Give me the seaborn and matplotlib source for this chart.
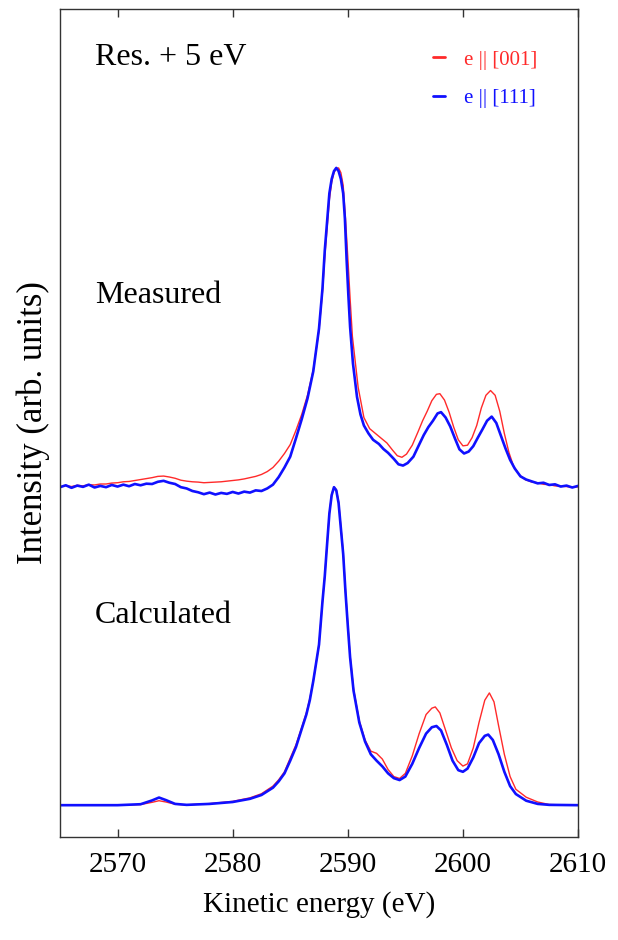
import numpy as np
import pandas as pd
import matplotlib
matplotlib.use("Agg")
import matplotlib.pyplot as plt
from matplotlib.lines import Line2D
import seaborn as sns

# ---- data (normalised intensity; baseline = 0, main peak = 1) ----
meas_111_e = [2565.0, 2565.5, 2566.0, 2566.5, 2567.0, 2567.5, 2568.0, 2568.5, 2569.0, 2569.5,
              2570.0, 2570.5, 2571.0, 2571.5, 2572.0, 2572.5, 2573.0, 2573.5, 2574.0, 2574.5,
              2575.0, 2575.5, 2576.0, 2576.5, 2577.0, 2577.5, 2578.0, 2578.5, 2579.0, 2579.5,
              2580.0, 2580.5, 2581.0, 2581.5, 2582.0, 2582.5, 2583.0, 2583.5, 2584.0, 2584.5,
              2585.0, 2585.5, 2586.0, 2586.5, 2587.0, 2587.5, 2587.8, 2588.0, 2588.2, 2588.4,
              2588.6, 2588.8, 2589.0, 2589.2, 2589.4, 2589.6, 2589.75, 2589.9, 2590.05, 2590.2,
              2590.45, 2590.8, 2591.1, 2591.4, 2591.8, 2592.2, 2592.7, 2593.1,
              2593.5, 2594.0, 2594.4, 2594.8, 2595.2, 2595.7, 2596.2, 2596.6, 2597.0, 2597.4,
              2597.8, 2598.1, 2598.5, 2598.9, 2599.3, 2599.7, 2600.1, 2600.5, 2600.9, 2601.3,
              2601.7, 2602.1, 2602.5, 2602.9, 2603.3, 2603.7, 2604.1, 2604.5, 2605.0, 2605.5,
              2606.0, 2606.5, 2607.0, 2607.5, 2608.0, 2608.5, 2609.0, 2609.5, 2610.0]
meas_111_i = [-0.004, 0.002, -0.006, 0.001, -0.003, 0.004, -0.005, 0.000, -0.004, 0.003,
              -0.002, 0.004, -0.001, 0.006, 0.002, 0.007, 0.006, 0.013, 0.016, 0.010,
              0.006, -0.004, -0.008, -0.016, -0.020, -0.026, -0.021, -0.027, -0.022, -0.025,
              -0.019, -0.024, -0.018, -0.021, -0.014, -0.016, -0.008, 0.004, 0.028, 0.058,
              0.092, 0.150, 0.210, 0.275, 0.360, 0.495, 0.620, 0.740, 0.830, 0.920,
              0.965, 0.990, 1.000, 0.990, 0.965, 0.920, 0.840, 0.710, 0.600, 0.500,
              0.385, 0.280, 0.225, 0.190, 0.165, 0.145, 0.132, 0.116,
              0.104, 0.085, 0.068, 0.064, 0.072, 0.092, 0.130, 0.160, 0.185, 0.205,
              0.228, 0.232, 0.215, 0.187, 0.150, 0.115, 0.102, 0.108, 0.125, 0.152,
              0.178, 0.205, 0.218, 0.198, 0.158, 0.118, 0.082, 0.055, 0.030, 0.020,
              0.014, 0.008, 0.010, 0.003, 0.005, -0.002, 0.001, -0.005, 0.000]

meas_001_e = [2565.0, 2565.5, 2566.0, 2566.5, 2567.0, 2567.5, 2568.0, 2568.5, 2569.0, 2569.5,
              2570.0, 2570.5, 2571.0, 2571.5, 2572.0, 2572.5, 2573.0, 2573.5, 2574.0, 2574.5,
              2575.0, 2575.5, 2576.0, 2576.5, 2577.0, 2577.5, 2578.0, 2578.5, 2579.0, 2579.5,
              2580.0, 2580.5, 2581.0, 2581.5, 2582.0, 2582.5, 2583.0, 2583.5, 2584.0, 2584.5,
              2585.0, 2585.5, 2586.0, 2586.5, 2587.0, 2587.5, 2587.8, 2588.0, 2588.2, 2588.4,
              2588.6, 2588.8, 2589.0, 2589.2, 2589.4, 2589.6, 2589.8, 2590.0, 2590.2, 2590.4,
              2590.9, 2591.4, 2591.9, 2592.4, 2592.9, 2593.4,
              2593.9, 2594.3, 2594.7, 2595.1, 2595.6, 2596.1, 2596.5, 2596.9, 2597.3, 2597.7,
              2598.0, 2598.4, 2598.8, 2599.2, 2599.6, 2600.0, 2600.4, 2600.8, 2601.2, 2601.6,
              2602.0, 2602.4, 2602.8, 2603.2, 2603.6, 2604.0, 2604.4, 2604.9, 2605.4, 2606.0,
              2606.5, 2607.0, 2607.5, 2608.0, 2608.5, 2609.0, 2609.5, 2610.0]
meas_001_i = [-0.003, 0.001, -0.002, 0.002, 0.000, 0.004, 0.003, 0.006, 0.006, 0.009,
              0.010, 0.013, 0.014, 0.017, 0.020, 0.023, 0.026, 0.030, 0.031, 0.028,
              0.024, 0.018, 0.015, 0.013, 0.012, 0.010, 0.011, 0.012, 0.013, 0.015,
              0.017, 0.019, 0.022, 0.026, 0.030, 0.036, 0.045, 0.058, 0.078, 0.102,
              0.130, 0.175, 0.225, 0.285, 0.365, 0.490, 0.610, 0.720, 0.810, 0.900,
              0.955, 0.985, 0.998, 1.000, 0.985, 0.945, 0.840, 0.720, 0.590, 0.470,
              0.310, 0.215, 0.180, 0.165, 0.150, 0.135,
              0.112, 0.095, 0.090, 0.100, 0.128, 0.170, 0.205, 0.235, 0.268, 0.288,
              0.290, 0.270, 0.232, 0.185, 0.145, 0.126, 0.128, 0.152, 0.190, 0.245,
              0.285, 0.300, 0.285, 0.235, 0.165, 0.105, 0.062, 0.035, 0.020, 0.012,
              0.010, 0.005, 0.004, 0.000, -0.001, -0.002, -0.004, -0.003]

calc_111_e = [2565.0, 2570.0, 2572.0, 2573.0, 2573.6, 2574.2, 2575.0, 2576.0, 2578.0, 2580.0,
              2581.5, 2582.5, 2583.5, 2584.0, 2584.5, 2585.0, 2585.5, 2586.0, 2586.4, 2586.7,
              2587.0, 2587.5, 2587.8, 2588.0, 2588.2, 2588.4, 2588.6, 2588.8, 2589.0, 2589.2,
              2589.4, 2589.6, 2589.8, 2590.0, 2590.2, 2590.5, 2591.0, 2591.5, 2592.0, 2592.5,
              2593.0, 2593.5, 2594.0, 2594.5, 2595.0, 2595.6, 2596.2, 2596.8, 2597.3, 2597.7,
              2598.1, 2598.6, 2599.1, 2599.6, 2600.0, 2600.4, 2600.9, 2601.4, 2601.9, 2602.2,
              2602.6, 2603.1, 2603.6, 2604.1, 2604.6, 2605.5, 2606.5, 2607.5, 2610.0]
calc_111_i = [0.000, 0.000, 0.003, 0.015, 0.024, 0.016, 0.004, 0.001, 0.004, 0.010,
              0.020, 0.032, 0.055, 0.075, 0.100, 0.140, 0.183, 0.240, 0.285, 0.330,
              0.390, 0.505, 0.640, 0.720, 0.820, 0.917, 0.975, 1.000, 0.990, 0.950,
              0.870, 0.790, 0.670, 0.565, 0.465, 0.360, 0.260, 0.200, 0.160, 0.140,
              0.122, 0.100, 0.085, 0.079, 0.090, 0.130, 0.180, 0.225, 0.245, 0.249,
              0.235, 0.190, 0.140, 0.110, 0.105, 0.115, 0.150, 0.195, 0.218, 0.222,
              0.205, 0.160, 0.105, 0.060, 0.035, 0.014, 0.004, 0.001, 0.000]

calc_001_e = [2565.0, 2570.0, 2572.0, 2573.0, 2573.6, 2574.2, 2575.0, 2576.0, 2578.0, 2580.0,
              2581.5, 2582.5, 2583.5, 2584.0, 2584.5, 2585.0, 2585.5, 2586.0, 2586.4, 2586.7,
              2587.0, 2587.5, 2587.8, 2588.0, 2588.2, 2588.4, 2588.6, 2588.8, 2589.0, 2589.2,
              2589.4, 2589.6, 2589.8, 2590.0, 2590.2, 2590.5, 2591.0, 2591.5, 2592.0, 2592.5,
              2593.0, 2593.5, 2594.0, 2594.5, 2595.0, 2595.6, 2596.2, 2596.8, 2597.3, 2597.6,
              2598.0, 2598.5, 2599.0, 2599.5, 2600.0, 2600.4, 2600.9, 2601.4, 2601.9, 2602.3,
              2602.7, 2603.1, 2603.6, 2604.1, 2604.6, 2605.5, 2606.5, 2607.5, 2610.0]
calc_001_i = [0.000, 0.000, 0.002, 0.009, 0.014, 0.010, 0.003, 0.001, 0.005, 0.012,
              0.023, 0.036, 0.060, 0.080, 0.105, 0.148, 0.190, 0.245, 0.290, 0.335,
              0.390, 0.505, 0.640, 0.720, 0.820, 0.917, 0.978, 1.000, 0.993, 0.955,
              0.875, 0.795, 0.675, 0.570, 0.470, 0.365, 0.265, 0.205, 0.170, 0.163,
              0.145, 0.112, 0.090, 0.084, 0.100, 0.155, 0.225, 0.285, 0.305, 0.309,
              0.290, 0.235, 0.180, 0.140, 0.123, 0.130, 0.180, 0.260, 0.330, 0.353,
              0.325, 0.250, 0.160, 0.090, 0.050, 0.025, 0.010, 0.002, 0.000]

offset_meas = 1.104
offset_calc = 0.100

c_001 = "#ff2a2a"
c_111 = "#1010ff"

sns.set_style("white")
plt.rcParams["font.family"] = ["Liberation Serif", "DejaVu Serif"]
plt.rcParams["text.color"] = "black"
plt.rcParams["axes.labelcolor"] = "black"
plt.rcParams["xtick.color"] = "black"

fig = plt.figure(figsize=(6.18, 9.40), dpi=100)
ax = fig.add_axes([0.0971, 0.1096, 0.8382, 0.8809])

# Measured
sns.lineplot(x=meas_001_e, y=np.array(meas_001_i) + offset_meas, color=c_001, lw=1.0, sort=False, ax=ax)
sns.lineplot(x=meas_111_e, y=np.array(meas_111_i) + offset_meas, color=c_111, lw=1.9, sort=False, ax=ax)
# Calculated
sns.lineplot(x=calc_001_e, y=np.array(calc_001_i) + offset_calc, color=c_001, lw=1.0, sort=False, ax=ax)
sns.lineplot(x=calc_111_e, y=np.array(calc_111_i) + offset_calc, color=c_111, lw=1.9, sort=False, ax=ax)

ax.set_xlim(2565, 2610)
ax.set_ylim(0, 2.604)
ax.set_xticks([2570, 2580, 2590, 2600, 2610])
ax.set_yticks([])
ax.tick_params(axis="x", direction="in", top=True, bottom=True, length=6, width=1,
               labelsize=21, pad=11, color="#333333", labelcolor="black")
for s in ax.spines.values():
    s.set_linewidth(1.0)
    s.set_color("#333333")

ax.set_xlabel("Kinetic energy (eV)", fontsize=21, labelpad=9, color="black")
ax.set_ylabel("Intensity (arb. units)", fontsize=25, labelpad=7, color="black")

ax.text(0.067, 0.932, "Res. + 5 eV", transform=ax.transAxes, fontsize=23, va="baseline", ha="left", color="black")
ax.text(0.067, 0.645, "Measured", transform=ax.transAxes, fontsize=23, va="baseline", ha="left", color="black")
ax.text(0.067, 0.259, "Calculated", transform=ax.transAxes, fontsize=23, va="baseline", ha="left", color="black")

handles = [Line2D([], [], color=c_001, lw=2), Line2D([], [], color=c_111, lw=2)]
ax.legend(handles, ["e || [001]", "e || [111]"], loc="upper left", bbox_to_anchor=(0.683, 0.973),
          frameon=False, handlelength=0.6, handletextpad=0.9, labelspacing=0.92,
          labelcolor="linecolor", fontsize=15)

fig.savefig("out.png", dpi=100)
